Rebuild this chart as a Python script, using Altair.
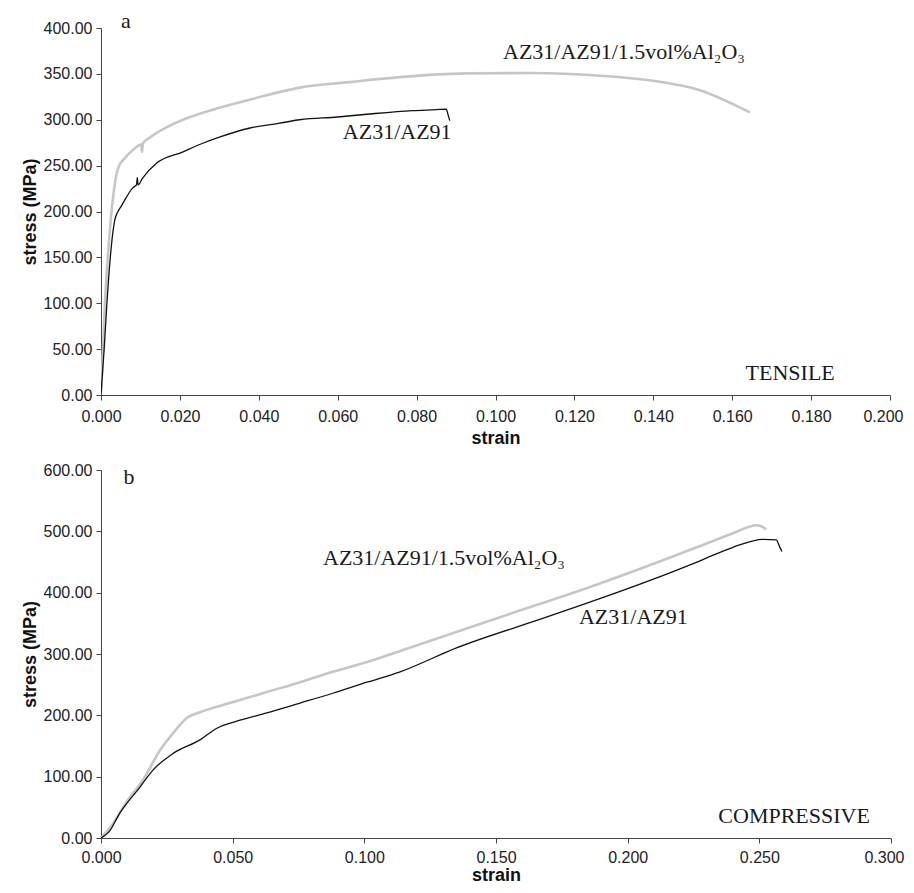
import altair as alt
import pandas as pd

# ---------------- data ----------------
# (a) TENSILE
ten_az_strain = [0, 0.0004, 0.0008, 0.0015, 0.0023, 0.0030, 0.0035, 0.0043, 0.0053, 0.0065,
                 0.0081, 0.0090, 0.0092, 0.0094, 0.0105, 0.0142, 0.0208, 0.0250, 0.0300, 0.0378,
                 0.0450, 0.0504, 0.0600, 0.0674, 0.0790, 0.0850, 0.0875, 0.0880, 0.0884]
ten_az_stress = [0, 25, 50, 100, 147, 177, 191, 200, 207, 216,
                 226, 229, 237, 229, 236, 253, 265, 273, 281, 291,
                 296, 300, 303, 306, 310, 311, 311.5, 305, 299]

ten_al_strain = [0, 0.0003, 0.0010, 0.0018, 0.0028, 0.0038, 0.0046, 0.0056, 0.0081, 0.0102,
                 0.0104, 0.0106, 0.0125, 0.0167, 0.0226, 0.0300, 0.0378, 0.0504, 0.0630, 0.0758,
                 0.0928, 0.1095, 0.1265, 0.1390, 0.1520, 0.1645]
ten_al_stress = [0, 30, 100, 155, 205, 238, 250, 256, 267, 273,
                 265, 274, 281, 292, 303, 313, 322, 335, 341, 346.5,
                 350.5, 351, 348, 343, 332, 308]

# (b) COMPRESSIVE
com_az_strain = [0, 0.0030, 0.0072, 0.0148, 0.0198, 0.0274, 0.0376, 0.0440, 0.0528, 0.0630,
                 0.0756, 0.0880, 0.1010, 0.1136, 0.1350, 0.1705, 0.2085, 0.2275, 0.2400, 0.2514,
                 0.2564, 0.2579, 0.2586]
com_az_stress = [0, 10, 41, 83, 111, 138, 160, 179, 192, 204,
                 220, 236, 254, 271, 310, 362, 420, 452, 474, 487,
                 486, 473, 467]

com_al_strain = [0, 0.0040, 0.0099, 0.0160, 0.0224, 0.0274, 0.0330, 0.0376, 0.0440, 0.0528,
                 0.0630, 0.0756, 0.0880, 0.1010, 0.1136, 0.1515, 0.1895, 0.2275, 0.2400, 0.2490,
                 0.2514, 0.2526]
com_al_stress = [0, 20, 60, 95, 143, 171, 197, 205, 214, 225,
                 238, 254, 271, 287, 305, 360, 415, 476, 497, 510,
                 507, 503]

# annotations (text, strain, stress, align)
ten_notes_text = ["a", "AZ31/AZ91/1.5vol%Al₂O₃", "AZ31/AZ91", "TENSILE"]
ten_notes_x = [0.0063, 0.1019, 0.0613, 0.1860]
ten_notes_y = [400, 366, 279, 16]
ten_notes_align = ["center", "left", "left", "right"]

com_notes_text = ["b", "AZ31/AZ91/1.5vol%Al₂O₃", "AZ31/AZ91", "COMPRESSIVE"]
com_notes_x = [0.0106, 0.0843, 0.1815, 0.2920]
com_notes_y = [577, 445, 349, 24.5]
com_notes_align = ["center", "left", "left", "right"]

ten_x_ticks = [round(i * 0.02, 3) for i in range(11)]
ten_y_ticks = [i * 50 for i in range(9)]
com_x_ticks = [round(i * 0.05, 3) for i in range(7)]
com_y_ticks = [i * 100 for i in range(7)]


def series(strain, stress, name):
    return pd.DataFrame({"strain": strain, "stress": stress, "series": name,
                         "i": list(range(len(strain)))})


def panel(az_s, az_t, al_s, al_t, notes, xmax, xticks, ymax, yticks, w, h,
          xlabel_pad, xtitle_pad):
    last = "datum.value >= %f" % (xmax * 0.999)
    xenc = alt.X("strain:Q",
                 scale=alt.Scale(domain=[0, xmax], nice=False, zero=True),
                 axis=alt.Axis(values=xticks, format=".3f", title="strain",
                               labelFlush=False, labelPadding=xlabel_pad,
                               titlePadding=xtitle_pad,
                               labelAlign={"condition": {"test": last, "value": "right"},
                                           "value": "center"},
                               labelOffset={"condition": {"test": last, "value": 13},
                                            "value": 0}))
    yenc = alt.Y("stress:Q",
                 scale=alt.Scale(domain=[0, ymax], nice=False, zero=True),
                 axis=alt.Axis(values=yticks, format=".2f", title="stress (MPa)",
                               labelFlush=False))

    gray = alt.Chart(series(al_s, al_t, "Al2O3")).mark_line(
        color="#c6c6c6", strokeWidth=2.6, interpolate="monotone", clip=True
    ).encode(x=xenc, y=yenc, order="i:Q")
    black = alt.Chart(series(az_s, az_t, "AZ")).mark_line(
        color="#111111", strokeWidth=1.3, interpolate="monotone", clip=True
    ).encode(x=xenc, y=yenc, order="i:Q")

    txt_df = pd.DataFrame({"text": notes[0], "strain": notes[1], "stress": notes[2],
                           "align": notes[3]})
    texts = []
    for al in ["left", "center", "right"]:
        sub = txt_df[txt_df["align"] == al]
        if len(sub) == 0:
            continue
        texts.append(alt.Chart(sub).mark_text(
            font="Liberation Serif", fontSize=22, color="#1a1a1a",
            align=al, baseline="alphabetic"
        ).encode(x="strain:Q", y="stress:Q", text="text:N"))

    return alt.layer(gray, black, *texts).properties(width=w, height=h)


top = panel(ten_az_strain, ten_az_stress, ten_al_strain, ten_al_stress,
            (ten_notes_text, ten_notes_x, ten_notes_y, ten_notes_align),
            0.2, ten_x_ticks, 400, ten_y_ticks, 789, 367, 8, 5)
bottom = panel(com_az_strain, com_az_stress, com_al_strain, com_al_stress,
               (com_notes_text, com_notes_x, com_notes_y, com_notes_align),
               0.3, com_x_ticks, 600, com_y_ticks, 790, 368, 6, 1)

chart = alt.vconcat(top, bottom, spacing=15).properties(
    padding={"left": 13, "top": 2, "right": 0, "bottom": 0}
).configure_view(stroke=None).configure_axis(
    grid=False,
    labelFont="Liberation Sans", labelFontSize=16, labelColor="#222222",
    titleFont="Liberation Sans", titleFontSize=18, titleFontWeight="bold",
    titleColor="#111111",
    domainColor="#444444", tickColor="#444444", tickSize=5
).configure_axisY(titlePadding=4, labelPadding=4)

chart.save("out.html", embed_options={"renderer": "svg", "actions": False})
